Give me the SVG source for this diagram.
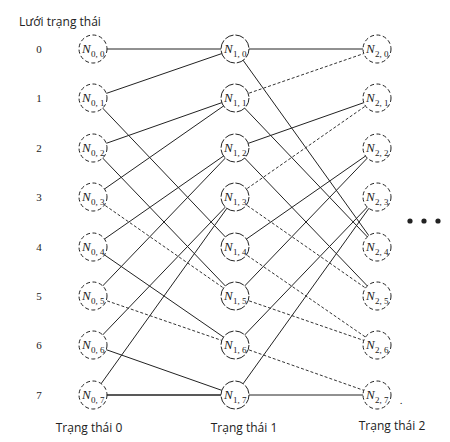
<svg xmlns="http://www.w3.org/2000/svg" width="450" height="442" viewBox="0 0 450 442">
<style>
.e{stroke:#222;stroke-width:1;fill:none}
.d{stroke:#333;stroke-width:1;stroke-dasharray:3,2;fill:none}
.n{fill:#fff;stroke:#222;stroke-width:1;stroke-dasharray:4,2.5}
.n1{fill:#fff;stroke:#222;stroke-width:1;stroke-dasharray:9,2}
.N{font-family:"Liberation Serif",serif;font-style:italic;font-size:13px;fill:#222}
.s{font-family:"Liberation Serif",serif;font-size:9px;fill:#222}
.r{font-family:"Liberation Serif",serif;font-size:11px;fill:#222;text-anchor:middle}
.t{font-family:"Open Sans","Liberation Sans",sans-serif;font-size:12px;fill:#222}
</style>
<text class="t" x="19" y="26">Lưới trạng thái</text>
<g id="rowlabels">
<text class="r" x="39" y="53">0</text>
<text class="r" x="39" y="102">1</text>
<text class="r" x="39" y="152">2</text>
<text class="r" x="39" y="201">3</text>
<text class="r" x="39" y="251">4</text>
<text class="r" x="39" y="300">5</text>
<text class="r" x="39" y="349">6</text>
<text class="r" x="39" y="399">7</text>
</g>
<g id="connectors">
<line class="e" x1="93" y1="49" x2="235" y2="49"/>
<line class="e" x1="93" y1="98" x2="235" y2="49"/>
<line class="e" x1="93" y1="98" x2="235" y2="247"/>
<line class="e" x1="93" y1="148" x2="235" y2="98"/>
<line class="e" x1="93" y1="148" x2="235" y2="296"/>
<line class="e" x1="93" y1="197" x2="235" y2="98"/>
<line class="d" x1="93" y1="197" x2="235" y2="296"/>
<line class="e" x1="93" y1="247" x2="235" y2="148"/>
<line class="e" x1="93" y1="247" x2="235" y2="345"/>
<line class="e" x1="93" y1="296" x2="235" y2="148"/>
<line class="d" x1="93" y1="296" x2="235" y2="345"/>
<line class="e" x1="93" y1="345" x2="235" y2="197"/>
<line class="e" x1="93" y1="345" x2="235" y2="395"/>
<line class="e" x1="93" y1="395" x2="235" y2="197"/>
<line class="e" x1="93" y1="395" x2="235" y2="395" style="stroke-width:1.6"/>
<line class="e" x1="235" y1="49" x2="377" y2="49"/>
<line class="e" x1="235" y1="49" x2="377" y2="247"/>
<line class="d" x1="235" y1="98" x2="377" y2="49"/>
<line class="e" x1="235" y1="98" x2="377" y2="247"/>
<line class="e" x1="235" y1="148" x2="377" y2="98"/>
<line class="e" x1="235" y1="148" x2="377" y2="296"/>
<line class="d" x1="235" y1="197" x2="377" y2="98"/>
<line class="d" x1="235" y1="197" x2="377" y2="296"/>
<line class="e" x1="235" y1="247" x2="377" y2="148"/>
<line class="d" x1="235" y1="247" x2="377" y2="345"/>
<line class="e" x1="235" y1="296" x2="377" y2="148"/>
<line class="d" x1="235" y1="296" x2="377" y2="345"/>
<line class="e" x1="235" y1="345" x2="377" y2="197"/>
<line class="d" x1="235" y1="345" x2="377" y2="395"/>
<line class="e" x1="235" y1="395" x2="377" y2="197"/>
<line class="e" x1="235" y1="395" x2="377" y2="395"/>
</g>
<g id="N0_0"><circle class="n" cx="93" cy="49" r="14"/><text class="N" x="82" y="53">N</text><text class="s" x="91" y="57">0, 0</text></g>
<g id="N0_1"><circle class="n" cx="93" cy="98" r="14"/><text class="N" x="82" y="102">N</text><text class="s" x="91" y="106">0, 1</text></g>
<g id="N0_2"><circle class="n" cx="93" cy="148" r="14"/><text class="N" x="82" y="152">N</text><text class="s" x="91" y="156">0, 2</text></g>
<g id="N0_3"><circle class="n" cx="93" cy="197" r="14"/><text class="N" x="82" y="201">N</text><text class="s" x="91" y="205">0, 3</text></g>
<g id="N0_4"><circle class="n" cx="93" cy="247" r="14"/><text class="N" x="82" y="251">N</text><text class="s" x="91" y="255">0, 4</text></g>
<g id="N0_5"><circle class="n" cx="93" cy="296" r="14"/><text class="N" x="82" y="300">N</text><text class="s" x="91" y="304">0, 5</text></g>
<g id="N0_6"><circle class="n" cx="93" cy="345" r="14"/><text class="N" x="82" y="349">N</text><text class="s" x="91" y="353">0, 6</text></g>
<g id="N0_7"><circle class="n" cx="93" cy="395" r="14"/><text class="N" x="82" y="399">N</text><text class="s" x="91" y="403">0, 7</text></g>
<g id="N1_0"><circle class="n1" cx="235" cy="49" r="14"/><text class="N" x="224" y="53">N</text><text class="s" x="233" y="57">1, 0</text></g>
<g id="N1_1"><circle class="n1" cx="235" cy="98" r="14"/><text class="N" x="224" y="102">N</text><text class="s" x="233" y="106">1, 1</text></g>
<g id="N1_2"><circle class="n1" cx="235" cy="148" r="14"/><text class="N" x="224" y="152">N</text><text class="s" x="233" y="156">1, 2</text></g>
<g id="N1_3"><circle class="n1" cx="235" cy="197" r="14"/><text class="N" x="224" y="201">N</text><text class="s" x="233" y="205">1, 3</text></g>
<g id="N1_4"><circle class="n1" cx="235" cy="247" r="14"/><text class="N" x="224" y="251">N</text><text class="s" x="233" y="255">1, 4</text></g>
<g id="N1_5"><circle class="n1" cx="235" cy="296" r="14"/><text class="N" x="224" y="300">N</text><text class="s" x="233" y="304">1, 5</text></g>
<g id="N1_6"><circle class="n1" cx="235" cy="345" r="14"/><text class="N" x="224" y="349">N</text><text class="s" x="233" y="353">1, 6</text></g>
<g id="N1_7"><circle class="n1" cx="235" cy="395" r="14"/><text class="N" x="224" y="399">N</text><text class="s" x="233" y="403">1, 7</text></g>
<g id="N2_0"><circle class="n" cx="377" cy="49" r="14"/><text class="N" x="366" y="53">N</text><text class="s" x="375" y="57">2, 0</text></g>
<g id="N2_1"><circle class="n" cx="377" cy="98" r="14"/><text class="N" x="366" y="102">N</text><text class="s" x="375" y="106">2, 1</text></g>
<g id="N2_2"><circle class="n" cx="377" cy="148" r="14"/><text class="N" x="366" y="152">N</text><text class="s" x="375" y="156">2, 2</text></g>
<g id="N2_3"><circle class="n" cx="377" cy="197" r="14"/><text class="N" x="366" y="201">N</text><text class="s" x="375" y="205">2, 3</text></g>
<g id="N2_4"><circle class="n" cx="377" cy="247" r="14"/><text class="N" x="366" y="251">N</text><text class="s" x="375" y="255">2, 4</text></g>
<g id="N2_5"><circle class="n" cx="377" cy="296" r="14"/><text class="N" x="366" y="300">N</text><text class="s" x="375" y="304">2, 5</text></g>
<g id="N2_6"><circle class="n" cx="377" cy="345" r="14"/><text class="N" x="366" y="349">N</text><text class="s" x="375" y="353">2, 6</text></g>
<g id="N2_7"><circle class="n" cx="377" cy="395" r="14"/><text class="N" x="366" y="399">N</text><text class="s" x="375" y="403">2, 7</text></g>
<text class="r" x="401" y="404">.</text>
<g id="ellipsis" fill="#222">
<circle cx="410" cy="221" r="2.6"/>
<circle cx="424" cy="221" r="2.6"/>
<circle cx="438" cy="221" r="2.6"/>
</g>
<text class="t" x="89" y="432" text-anchor="middle">Trạng thái 0</text>
<text class="t" x="244" y="432" text-anchor="middle">Trạng thái 1</text>
<text class="t" x="392" y="430" text-anchor="middle">Trạng thái 2</text>
</svg>
